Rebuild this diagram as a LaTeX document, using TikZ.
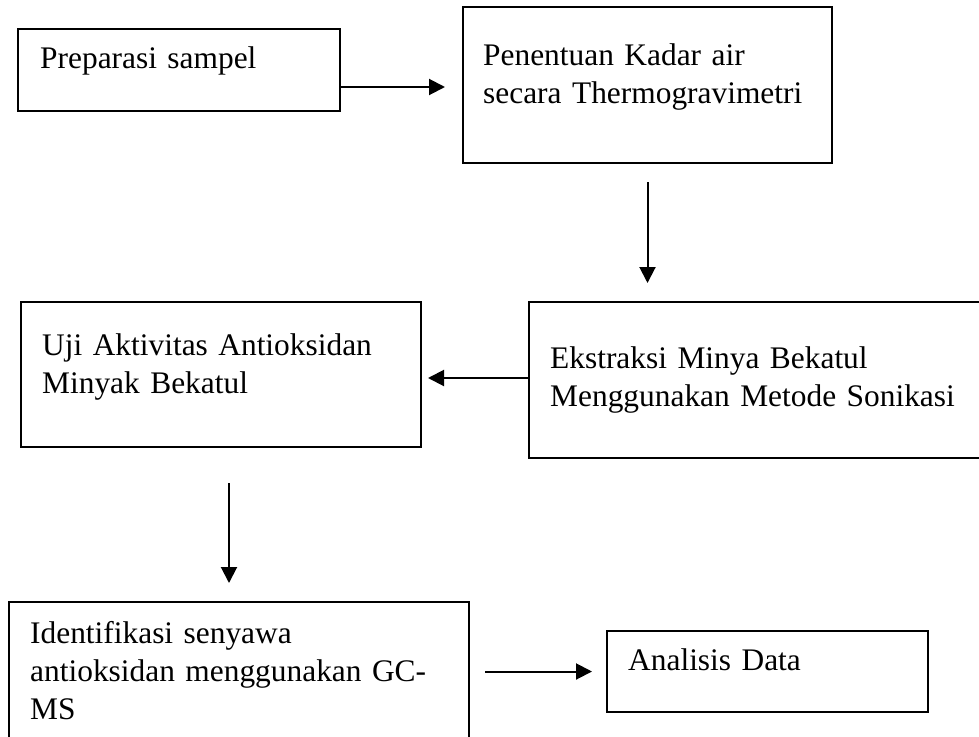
\documentclass[tikz,border=0pt]{standalone}
\usepackage{fontspec}
\setmainfont{Liberation Serif}
\usetikzlibrary{arrows.meta,calc}
\begin{document}
\begin{tikzpicture}[x=1pt,y=-1pt,
  box/.style={draw=black, line width=2.3pt, rectangle, inner sep=0pt, outer sep=0pt, anchor=north west},
  lbl/.style={anchor=base west, inner sep=0pt, align=left, text width=440pt, font=\fontsize{31.4}{38}\selectfont},
  arr/.style={line width=2pt, -{Triangle[length=16pt,width=16pt]}}]
\useasboundingbox[fill=white] (0,0) rectangle (979,736);
% boxes
\node[box, minimum width=322pt, minimum height=82pt]  (b1) at (18,29)  {};
\node[box, minimum width=369pt, minimum height=156pt] (b2) at (463,7)  {};
\node[box, minimum width=461pt, minimum height=156pt] (b3) at (529,302) {};
\node[box, minimum width=400pt, minimum height=145pt] (b4) at (21,302) {};
\node[box, minimum width=460pt, minimum height=160pt] (b5) at (9,602)  {};
\node[box, minimum width=321pt, minimum height=81pt]  (b6) at (607,631) {};
% texts
\node[lbl] (t1) at (40,68)   {Preparasi sampel};
\node[lbl] (t2) at (483,65)  {Penentuan Kadar air\\secara Thermogravimetri};
\node[lbl] (t3) at (550,368) {Ekstraksi Minya Bekatul\\Menggunakan Metode Sonikasi};
\node[lbl] (t4) at (42,355)  {Uji Aktivitas Antioksidan\\Minyak Bekatul};
\node[lbl] (t5) at (30,643)  {Identifikasi senyawa\\antioksidan menggunakan GC-\\MS};
\node[lbl] (t6) at (628,670) {Analisis Data};
% arrows
\draw[arr] ($(b1.east |- b2.west)+(0,2)$) -- ($(b2.west)+(-18,2)$);
\draw[arr] ($(b2.south)+(0,19)$) -- ($(b2.south |- b3.north)+(0,-19)$);
\draw[arr] ($(b3.west)+(0,-2)$) -- ($(b4.east |- b3.west)+(7,-2)$);
\draw[arr] ($(b4.south)+(8,36)$) -- ($(b4.south |- b5.north)+(8,-19)$);
\draw[arr] ($(b5.east |- b6.west)+(16,0)$) -- ($(b6.west)+(-15,0)$);
\end{tikzpicture}
\end{document}
